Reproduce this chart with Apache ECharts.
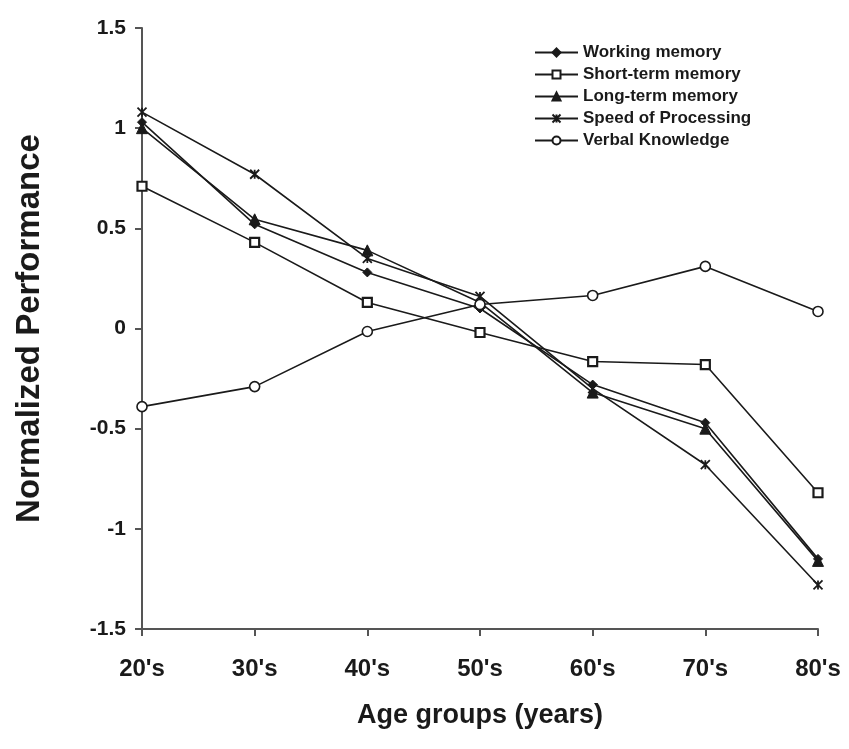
<!DOCTYPE html>
<html><head><meta charset="utf-8">
<script src="https://cdn.jsdelivr.net/npm/echarts@6/dist/echarts.min.js"></script>
<style>html,body{margin:0;padding:0;background:#fff}#c{width:849px;height:749px}</style>
</head><body><div id="c"></div>
<script>
var categories = ["20's","30's","40's","50's","60's","70's","80's"];
var workingMemory = [1.03, 0.52, 0.28, 0.10, -0.28, -0.47, -1.15];
var shortTermMemory = [0.71, 0.43, 0.13, -0.02, -0.165, -0.18, -0.82];
var longTermMemory = [1.00, 0.545, 0.39, 0.13, -0.32, -0.50, -1.16];
var speedOfProcessing = [1.08, 0.77, 0.35, 0.16, -0.30, -0.68, -1.28];
var verbalKnowledge = [-0.39, -0.29, -0.015, 0.12, 0.165, 0.31, 0.085];
var yTicks = [-1.5, -1, -0.5, 0, 0.5, 1, 1.5];

var ink = '#1a1a1a';
var font = 'Liberation Sans, Arial, sans-serif';
function ser(name, data, symbol, size, fill, bw) {
  return {
    name: name, type: 'line', data: data, symbol: symbol, symbolSize: size,
    lineStyle: {color: ink, width: 1.6},
    itemStyle: {color: fill, borderColor: ink, borderWidth: bw},
    emphasis: {disabled: true}, z: 3
  };
}
var chart = echarts.init(document.getElementById('c'), null, {renderer: 'canvas'});
chart.setOption({
  animation: false,
  backgroundColor: '#fff',
  grid: {left: 142, right: 31, top: 28, bottom: 120, containLabel: false},
  legend: {
    orient: 'vertical', left: 529, top: 39, itemWidth: 43, itemHeight: 10, itemGap: 5,
    textStyle: {fontFamily: font, fontWeight: 'bold', fontSize: 17, color: ink},
    data: ['Working memory','Short-term memory','Long-term memory','Speed of Processing','Verbal Knowledge']
  },
  xAxis: {
    type: 'category', data: categories, boundaryGap: false,
    name: 'Age groups (years)', nameLocation: 'middle', nameGap: 73,
    nameTextStyle: {fontFamily: font, fontWeight: 'bold', fontSize: 27, color: ink},
    axisLine: {onZero: false, lineStyle: {color: '#555', width: 2}},
    axisTick: {show: true, alignWithLabel: true, length: 7, lineStyle: {color: '#555', width: 2}},
    axisLabel: {fontFamily: font, fontWeight: 'bold', fontSize: 24, color: ink, margin: 28},
    splitLine: {show: false}
  },
  yAxis: {
    type: 'value', min: -1.5, max: 1.5, interval: 0.5,
    name: 'Normalized Performance', nameLocation: 'middle', nameGap: 96,
    nameTextStyle: {fontFamily: font, fontWeight: 'bold', fontSize: 33, color: ink},
    axisLine: {show: true, lineStyle: {color: '#555', width: 2}},
    axisTick: {show: true, length: 7, lineStyle: {color: '#555', width: 2}},
    axisLabel: {fontFamily: font, fontWeight: 'bold', fontSize: 21, color: ink, margin: 16,
      formatter: function (v) { return yTicks.indexOf(v) >= 0 ? String(v) : ''; }},
    splitLine: {show: false}
  },
  series: [
    ser('Working memory', workingMemory, 'diamond', 9, ink, 1),
    ser('Short-term memory', shortTermMemory, 'rect', 9, '#fff', 2.2),
    ser('Long-term memory', longTermMemory, 'triangle', 11, ink, 1),
    ser('Speed of Processing', speedOfProcessing, 'path://M0,0L10,10M10,0L0,10M5,0L5,10', 9, ink, 1.8),
    ser('Verbal Knowledge', verbalKnowledge, 'circle', 10, '#fff', 1.6)
  ]
});
</script></body></html>
